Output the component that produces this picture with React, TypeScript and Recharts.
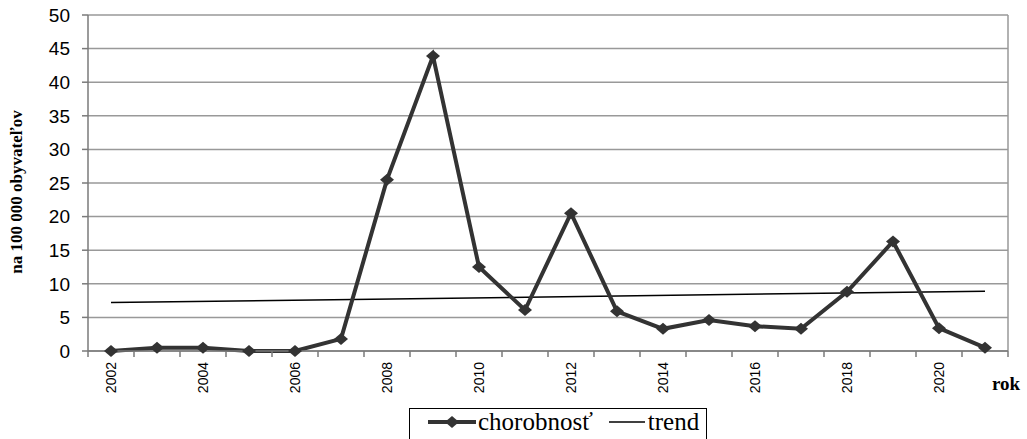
import React from 'react';
import { LineChart, Line, XAxis, YAxis, CartesianGrid, Legend, ReferenceLine, Label } from 'recharts';

const years = [2002, 2003, 2004, 2005, 2006, 2007, 2008, 2009, 2010, 2011, 2012, 2013, 2014, 2015, 2016, 2017, 2018, 2019, 2020, 2021];
const morbidity = [0, 0.5, 0.5, 0, 0, 1.8, 25.5, 43.9, 12.5, 6.1, 20.5, 5.9, 3.3, 4.6, 3.7, 3.3, 8.8, 16.3, 3.4, 0.5];
const trendValues: (number | null)[] = [7.2, null, null, null, null, null, null, null, null, null, null, null, null, null, null, null, null, null, null, 8.9];
const xTickLabels = [2002, 2004, 2006, 2008, 2010, 2012, 2014, 2016, 2018, 2020];
const yTicks = [0, 5, 10, 15, 20, 25, 30, 35, 40, 45, 50];

const data = years.map((year, i) => ({ year, chorobnost: morbidity[i], trend: trendValues[i] }));
const bandEdges = [...years.map((y) => y - 0.5), years[years.length - 1] + 0.5];
const xTicks = [...bandEdges, ...xTickLabels].sort((a, b) => a - b);

const AXIS = '#7a7a7a';
const LINE = '#333333';

const XTick = (props: any) => {
  const { x, y, payload } = props;
  const v = payload.value;
  if (xTickLabels.includes(v)) {
    const ty = y + 5;
    return (
      <text x={x} y={ty} transform={`rotate(-90, ${x}, ${ty})`} textAnchor="end" dominantBaseline="central"
        fontFamily="'Liberation Sans', Arial, sans-serif" fontSize={14} fill="#000">{v}</text>
    );
  }
  if (bandEdges.includes(v)) {
    return <line x1={x} x2={x} y1={y - 6} y2={y} stroke={AXIS} strokeWidth={1.5} />;
  }
  return null;
};

const Diamond = (props: any) => {
  const { cx, cy, index } = props;
  if (cx == null || cy == null) return <g key={`d-${index}`} />;
  return <polygon key={`d-${index}`} points={`${cx},${cy - 6} ${cx + 7},${cy} ${cx},${cy + 6} ${cx - 7},${cy}`} fill={LINE} />;
};

const YTitle = (props: any) => {
  const { viewBox } = props;
  const cx = viewBox.x + 16;
  const cy = viewBox.y + viewBox.height / 2 + 9;
  return (
    <text x={cx} y={cy} transform={`rotate(-90, ${cx}, ${cy})`} textAnchor="middle" dominantBaseline="central"
      fontFamily="'Liberation Serif', 'Times New Roman', serif" fontWeight="bold" fontSize={17} fill="#000">
      na 100 000 obyvateľov
    </text>
  );
};

const XTitle = (props: any) => {
  const { viewBox } = props;
  const x = viewBox.x + viewBox.width - 16;
  const y = viewBox.y + 32;
  return (
    <text x={x} y={y} textAnchor="start" dominantBaseline="central"
      fontFamily="'Liberation Serif', 'Times New Roman', serif" fontWeight="bold" fontSize={19} fill="#000">rok</text>
  );
};

const LegendBox = () => (
  <div style={{
    boxSizing: 'border-box', width: 298, height: 45, border: '1px solid #000', background: '#fff',
    display: 'flex', alignItems: 'flex-start', paddingTop: 0, paddingLeft: 18,
    fontFamily: "'Liberation Serif', 'Times New Roman', serif", fontSize: 25, color: '#000', lineHeight: '26px',
  }}>
    <svg width={48} height={26} style={{ display: 'block' }}>
      <line x1={0} x2={48} y1={13} y2={13} stroke={LINE} strokeWidth={4} />
      <polygon points="24,7 31,13 24,19 17,13" fill={LINE} />
    </svg>
    <span style={{ marginLeft: 2 }}>chorobnosť</span>
    <svg width={36} height={26} style={{ display: 'block', marginLeft: 16 }}>
      <line x1={0} x2={36} y1={13} y2={13} stroke="#000" strokeWidth={1.5} />
    </svg>
    <span style={{ marginLeft: 3 }}>trend</span>
  </div>
);

export default function App() {
  return (
    <div style={{ position: 'absolute', left: 0, top: 0, background: '#fff' }}>
      <LineChart width={1027} height={439} data={data} margin={{ top: 15, right: 19, left: 0, bottom: 38 }}>
        <CartesianGrid vertical={false} stroke="#999" strokeWidth={1.5} />
        <XAxis dataKey="year" type="number" domain={[2001.5, 2021.5]} ticks={xTicks} interval={0}
          tick={<XTick />} tickLine={false} tickSize={6} tickMargin={0} height={50}
          axisLine={{ stroke: AXIS, strokeWidth: 1.5 }}>
          <Label content={<XTitle />} />
        </XAxis>
        <YAxis width={88} domain={[0, 50]} ticks={yTicks} interval={0} tickSize={6} tickMargin={12}
          tick={{ fontSize: 19, fill: '#000', fontFamily: "'Liberation Sans', Arial, sans-serif" }}
          tickLine={{ stroke: AXIS, strokeWidth: 1.5 }} axisLine={{ stroke: AXIS, strokeWidth: 1.5 }}>
          <Label content={<YTitle />} />
        </YAxis>
        <ReferenceLine x={2021.5} stroke="#999" strokeWidth={1.5} />
        <Line dataKey="trend" stroke="#000" strokeWidth={1.5} dot={false} connectNulls isAnimationActive={false} />
        <Line dataKey="chorobnost" stroke={LINE} strokeWidth={4} dot={<Diamond />} activeDot={false} isAnimationActive={false} />
        <Legend layout="horizontal" verticalAlign="middle" align="center" content={<LegendBox />}
          wrapperStyle={{ top: 408, left: 409, width: 298, height: 45 }} />
      </LineChart>
    </div>
  );
}
